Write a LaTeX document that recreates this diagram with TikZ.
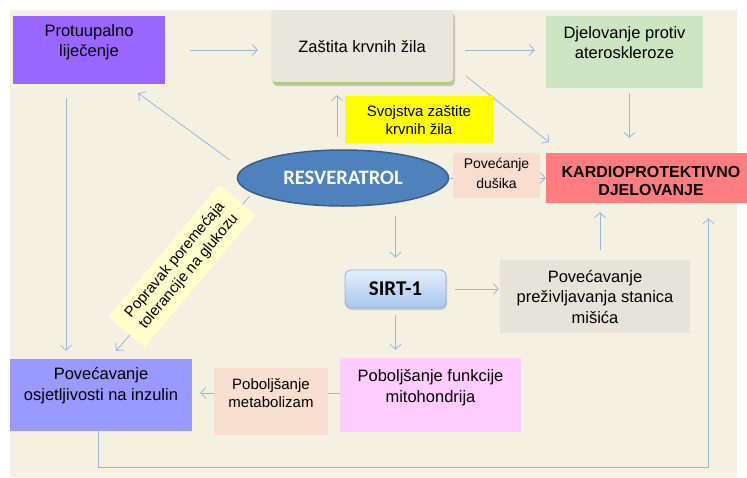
\documentclass[tikz,border=0pt]{standalone}
\usepackage{fontspec}
\setmainfont{Liberation Sans}
\newfontfamily\carl{Carlito}
\usetikzlibrary{arrows.meta,shapes.geometric,shadows}
\definecolor{bgc}{HTML}{F4F1E2}
\definecolor{proc}{HTML}{9966FF}
\definecolor{zac}{HTML}{E9E7DC}
\definecolor{zagreen}{HTML}{9BD45A}
\definecolor{djec}{HTML}{CDE5C3}
\definecolor{svoc}{HTML}{FFFF00}
\definecolor{resc}{HTML}{4F81BD}
\definecolor{resb}{HTML}{385D8A}
\definecolor{dusc}{HTML}{F9DDCF}
\definecolor{karc}{HTML}{FF7C80}
\definecolor{prec}{HTML}{E6E4D8}
\definecolor{mitoc}{HTML}{FFCCFF}
\definecolor{metc}{HTML}{F9DFD0}
\definecolor{inzc}{HTML}{9999FF}
\definecolor{bandc}{HTML}{FFFFCC}
\definecolor{arrc}{HTML}{9BB7D8}
\definecolor{sirtt}{HTML}{E3EEFB}
\definecolor{sirtb}{HTML}{A9C7EF}
\definecolor{sirtd}{HTML}{8DB1E0}
\begin{document}
\begin{tikzpicture}[x=1pt,y=-1pt,
  box/.style={rectangle, inner sep=0pt, draw=none},
  arr/.style={draw=arrc, line width=0.8pt, -{Straight Barb[length=5pt,width=11pt,line width=0.8pt]}},
  lab/.style={align=center, inner sep=0pt, font=\fontsize{16.5}{20.5}\selectfont},
  labs/.style={align=center, inner sep=0pt, font=\fontsize{15}{18}\selectfont},
  labxs/.style={align=center, inner sep=0pt, font=\fontsize{14}{20}\selectfont},
]
\useasboundingbox (0,0) rectangle (747,477);
\fill[bgc] (10,10) rectangle (737,477);

% boxes
\node[box, fill=proc, minimum width=152pt, minimum height=68pt,
  label={[lab, yshift=8pt]center:Protuupalno\\liječenje}] (pro) at (89,50) {};

\fill[black, opacity=0.18, rounded corners=4pt] (273,13) rectangle (455,86);
\fill[zagreen, rounded corners=4pt] (272,12) rectangle (452,84);
\node[box, fill=zac, rounded corners=4pt, minimum width=182pt, minimum height=72pt,
  label={[lab, yshift=-1pt]center:Zaštita krvnih žila}] (za) at (362,46) {};

\node[box, fill=djec, minimum width=157pt, minimum height=72pt,
  label={[lab, yshift=9.5pt]center:Djelovanje protiv\\ateroskleroze}] (dje) at (624.5,52) {};

\node[ellipse, fill=resc, draw=resb, line width=1.5pt, minimum width=211pt, minimum height=56pt,
  inner sep=0pt, text=white, font=\carl\bfseries\fontsize{20.5}{24}\selectfont] (res) at (343,178) {RESVERATROL};

\node[box, fill=karc, minimum width=201pt, minimum height=50pt,
  label={[align=center, inner sep=0pt, font=\bfseries\fontsize{16}{18.5}\selectfont, xshift=4.5pt, yshift=-3pt]center:KARDIOPROTEKTIVNO\\DJELOVANJE}] (kar) at (646.5,178) {};

\node[rectangle, rounded corners=6pt, top color=sirtt, bottom color=sirtb, draw=sirtd, line width=0.8pt,
  minimum width=101pt, minimum height=38pt, inner sep=0pt,
  drop shadow={opacity=0.3, shadow xshift=1pt, shadow yshift=-2pt},
  font=\carl\bfseries\fontsize{21}{24}\selectfont] (sirt) at (395.5,289) {SIRT-1};

\node[box, fill=prec, minimum width=190pt, minimum height=73pt,
  label={[lab]center:Povećavanje\\preživljavanja stanica\\mišića}] (pre) at (595,296.5) {};

\node[box, fill=mitoc, minimum width=181pt, minimum height=74pt,
  label={[lab, yshift=7.5pt]center:Poboljšanje funkcije\\mitohondrija}] (mito) at (430.5,395) {};

\node[box, fill=inzc, minimum width=182pt, minimum height=72pt,
  label={[lab, yshift=9.5pt]center:Povećavanje\\osjetljivosti na inzulin}] (inz) at (101,395) {};

% connectors
\draw[arr, shorten <=25pt, shorten >=13pt] (pro.east) -- (pro.east -| za.west);
\draw[arr, shorten <=12pt, shorten >=11pt] ([yshift=-4pt]za.east) -- ([yshift=-4pt]za.east -| dje.west);
\draw[arr, shorten >=1pt] ([xshift=13pt,yshift=6pt]za.south east) -- ([xshift=4pt,yshift=10pt]kar.north west);
\draw[arr, shorten <=5pt, shorten >=15pt] ([xshift=5pt]dje.south) -- ([xshift=5pt]dje.south |- kar.north);
\draw[arr] ([xshift=-7pt,yshift=18pt]res.west) -- ([xshift=-27pt,yshift=-9pt]pro.south east);
\draw[arr, shorten <=12pt, shorten >=13pt] ([xshift=-6pt]res.north) -- ([xshift=-6pt]res.north |- za.south);
\draw[arr] (res.east) -- (res.east -| kar.west);
\draw[arr, shorten <=9pt, shorten >=12pt] (sirt.north |- res.south) -- (sirt.north);
\draw[arr, shorten <=9pt, shorten >=1pt] (sirt.east) -- (sirt.east -| pre.west);
\draw[arr, shorten <=10pt, shorten >=9pt] ([xshift=5pt]pre.north) -- ([xshift=5pt]pre.north |- kar.south);
\draw[arr, shorten <=7pt, shorten >=8pt] (sirt.south) -- (sirt.south |- mito.north);
\draw[arr, shorten >=8pt] ([yshift=2pt]mito.west) -- ([yshift=2pt]mito.west -| inz.east);
\draw[arr, shorten <=14pt, shorten >=8pt] ([xshift=-23pt]pro.south) -- ([xshift=-23pt]pro.south |- inz.north);
\draw[arr] ([xshift=13pt,yshift=-18pt]res.west) -- ([xshift=-76pt,yshift=8pt]inz.north east);
\draw[arr, shorten >=15pt] ([xshift=-3pt]inz.south) -- ++(0,36) -| ([xshift=62pt]kar.south);

% boxes drawn over connectors
\node[box, fill=svoc, minimum width=148pt, minimum height=47pt,
  label={[labs, yshift=-0.5pt]center:Svojstva zaštite\\krvnih žila}] (svo) at (419,119.5) {};
\node[box, fill=dusc, minimum width=87pt, minimum height=45pt,
  label={[labxs, yshift=2.5pt]center:Povećanje\\dušika}] (dus) at (496.5,175.5) {};
\node[box, fill=metc, minimum width=114pt, minimum height=67pt,
  label={[labs, yshift=8.5pt]center:Poboljšanje\\metabolizam}] (met) at (271,401.5) {};
\node[box, fill=bandc, rotate=50, minimum width=172pt, minimum height=47pt,
  align=center, font=\fontsize{15}{18}\selectfont] (pop) at (182,266) {Popravak poremećaja\\tolerancije na glukozu};
\end{tikzpicture}
\end{document}
